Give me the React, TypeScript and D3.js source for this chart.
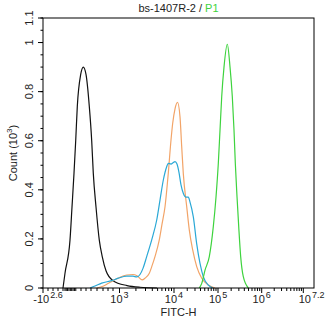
import React from "react";
import * as d3 from "d3";

// x values are in display decades of the logicle axis (-2.6 means -10^2.6)
const blackX = [-1.136, -0.99, -0.624, -0.477, -0.331, -0.206, -0.089, 0.16, 0.35, 0.548, 0.789, 0.965, 1.082, 1.28, 1.521, 1.741, 2.012, 2.524, 3.138, 3.376, 3.688];
const blackY = [0, 0.06, 0.195, 0.33, 0.467, 0.6, 0.74, 0.87, 0.9, 0.87, 0.74, 0.6, 0.467, 0.33, 0.195, 0.127, 0.07, 0.03, 0.01, 0.003, 0];

const orangeX = [1.353, 1.792, 2.158, 2.524, 2.817, 3.009, 3.132, 3.248, 3.321, 3.413, 3.468, 3.547, 3.596, 3.651, 3.73, 3.78, 3.835, 3.895, 3.945, 3.976, 4.023, 4.08, 4.136, 4.175, 4.211, 4.289, 4.348, 4.425, 4.516, 4.63, 4.78, 4.932];
const orangeY = [0, 0.007, 0.018, 0.03, 0.038, 0.044, 0.053, 0.055, 0.05, 0.033, 0.04, 0.06, 0.09, 0.128, 0.196, 0.26, 0.331, 0.467, 0.603, 0.671, 0.73, 0.756, 0.698, 0.576, 0.467, 0.331, 0.236, 0.155, 0.087, 0.04, 0.012, 0];

const blueX = [0.84, 1.206, 1.697, 2.429, 2.912, 3.132, 3.248, 3.316, 3.376, 3.431, 3.499, 3.591, 3.683, 3.743, 3.804, 3.866, 3.895, 3.945, 3.982, 4.023, 4.068, 4.114, 4.159, 4.211, 4.273, 4.325, 4.364, 4.439, 4.516, 4.591, 4.666, 4.78, 4.886];
const blueY = [0, 0.008, 0.02, 0.03, 0.04, 0.048, 0.048, 0.045, 0.055, 0.08, 0.128, 0.196, 0.277, 0.358, 0.44, 0.494, 0.508, 0.505, 0.51, 0.515, 0.505, 0.47, 0.42, 0.386, 0.37, 0.37, 0.35, 0.29, 0.18, 0.1, 0.046, 0.012, 0];

const greenX = [4.575, 4.63, 4.705, 4.802, 4.893, 4.955, 5.007, 5.046, 5.085, 5.137, 5.213, 5.275, 5.327, 5.366, 5.396, 5.435, 5.474, 5.519, 5.579, 5.693];
const greenY = [0, 0.019, 0.073, 0.128, 0.25, 0.372, 0.508, 0.644, 0.78, 0.9, 0.993, 0.9, 0.78, 0.644, 0.508, 0.372, 0.25, 0.128, 0.046, 0];

// axis break points of the logicle display (decades)
const xBreaks = [-2.6, 3, 4, 5, 6, 7, 7.26];
const xBreakFrac = [0, 0.2823, 0.4834, 0.6458, 0.8070, 0.9605, 1];

const xLabelVals = [-2.6, 3, 4, 5, 6, 7.2];
const xLabelBase = ["-10", "10", "10", "10", "10", "10"];
const xLabelExp = ["2.6", "3", "4", "5", "6", "7.2"];
const xMajorTicks = [-2.6, 3, 4, 5, 6, 7];
const xLinearMinor = [-2.234, -1.868, -1.502, -1.136, -0.99, -0.9, -0.8, -0.7, -0.6, -0.5, -0.4, -0.3, -0.2, 0.182, 0.548, 0.914, 1.353, 1.792, 2.158, 2.524];

const yMajor = [0, 0.2, 0.4, 0.6, 0.8, 1, 1.1];
const yLabels = ["0", "0.2", "0.4", "0.6", "0.8", "1", "1.1"];

const series = [
  { xs: blackX, ys: blackY, color: "#111111" },
  { xs: orangeX, ys: orangeY, color: "#F2A468" },
  { xs: blueX, ys: blueY, color: "#2AA8D6" },
  { xs: greenX, ys: greenY, color: "#3ED33E" },
];

export default function App() {
  const W = 328, H = 331;
  const m = { left: 43, top: 18, right: 14, bottom: 43 };
  const pw = W - m.left - m.right;
  const ph = H - m.top - m.bottom;
  const x = d3.scaleLinear().domain(xBreaks).range(xBreakFrac.map((f) => m.left + f * pw));
  const y = d3.scaleLinear().domain([0, 1.1]).range([m.top + ph, m.top]);
  const line = d3
    .line<[number, number]>()
    .x((d) => x(d[0]))
    .y((d) => y(d[1]))
    .curve(d3.curveMonotoneX);

  const logMinor: number[] = [];
  for (let dd = 3; dd <= 6; dd++) for (let k = 2; k <= 9; k++) logMinor.push(dd + Math.log10(k));
  const minorX = [...xLinearMinor, ...logMinor];
  const yMinor = d3.range(0, 1.1001, 0.05);
  const font = "'Liberation Sans', Arial, sans-serif";
  const yb = m.top + ph;

  return (
    <svg width={W} height={H} style={{ position: "absolute", left: 0, top: 0, background: "#fff" }} fontFamily={font}>
      <text x={m.left + pw / 2} y={12} fontSize={11} textAnchor="middle" fill="#222">
        bs-1407R-2 / <tspan fill="#3ED33E">P1</tspan>
      </text>
      {series.map((s, i) => (
        <path key={i} d={line(s.xs.map((v, j) => [v, s.ys[j]]) as [number, number][]) || ""} fill="none" stroke={s.color} strokeWidth={1.2} />
      ))}
      <rect x={m.left} y={m.top} width={pw} height={ph} fill="none" stroke="#000" strokeWidth={1} />
      {yMinor.map((v, i) => (
        <line key={"ym" + i} x1={m.left - 2.5} x2={m.left} y1={y(v)} y2={y(v)} stroke="#000" />
      ))}
      {yMajor.map((v, i) => (
        <g key={"yM" + i}>
          <line x1={m.left - 5} x2={m.left} y1={y(v)} y2={y(v)} stroke="#000" />
          <text transform={`translate(${m.left - 10},${y(v)}) rotate(-90)`} fontSize={11} textAnchor="middle" fill="#222">
            {yLabels[i]}
          </text>
        </g>
      ))}
      {minorX.map((v, i) => (
        <line key={"xm" + i} x1={x(v)} x2={x(v)} y1={yb} y2={yb + 3} stroke="#000" />
      ))}
      {xMajorTicks.map((v, i) => (
        <line key={"xM" + i} x1={x(v)} x2={x(v)} y1={yb} y2={yb + 5} stroke="#000" />
      ))}
      {xLabelVals.map((v, i) => (
        <text key={"xl" + i} x={x(v) + (i === 0 ? 5 : 0)} y={yb + 15} fontSize={11} textAnchor="middle" fill="#222">
          {xLabelBase[i]}
          <tspan fontSize={9} dx={1} dy={-5}>{xLabelExp[i]}</tspan>
        </text>
      ))}
      <text x={m.left + pw / 2} y={316} fontSize={11} textAnchor="middle" fill="#222">FITC-H</text>
      <text transform={`translate(17,${m.top + ph / 2}) rotate(-90)`} fontSize={11} textAnchor="middle" fill="#222">
        Count (10<tspan fontSize={8} dy={-5}>3</tspan><tspan dy={5}>)</tspan>
      </text>
    </svg>
  );
}
